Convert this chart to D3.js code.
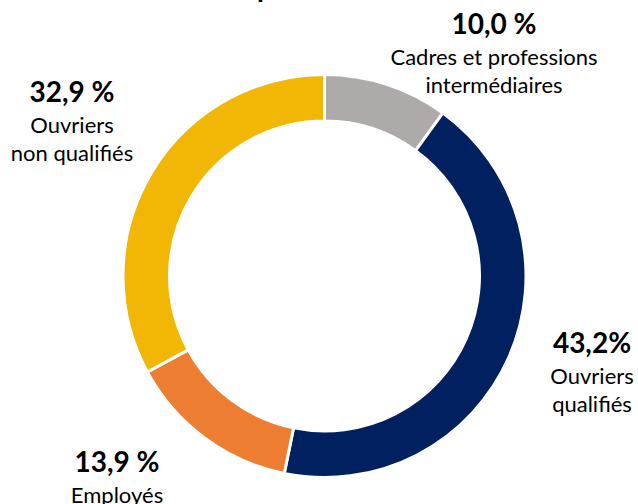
<!DOCTYPE html>
<html>
<head>
<meta charset="utf-8">
<script src="https://cdn.jsdelivr.net/npm/d3@7"></script>
<style>
  body { margin: 0; background: #fff; }
  svg { display: block; font-family: Lato, "Open Sans", sans-serif; }
</style>
</head>
<body>
<div id="chart"></div>
<script>
// categories, values and colours, clockwise from 12 o'clock
const categories = ["Cadres et professions intermédiaires", "Ouvriers qualifiés", "Employés", "Ouvriers non qualifiés"];
const values = [10.0, 43.2, 13.9, 32.9];
const valueLabels = ["10,0 %", "43,2%", "13,9 %", "32,9 %"];
const nameLines = [["Cadres et professions", "intermédiaires"], ["Ouvriers", "qualifiés"], ["Employés"], ["Ouvriers", "non qualifiés"]];
const colors = ["#aeaaaa", "#002060", "#ed7d31", "#f2b705"];

// label anchors (centre x, baseline of the bold value)
const labelPos = [[494, 34], [592, 353], [117, 472], [72, 102]];

const W = 638, H = 504;
const cx = 324.5, cy = 276;
const rOuter = 201.5, rInner = 155;

const svg = d3.select("#chart")
    .append("svg")
    .attr("width", W)
    .attr("height", H);

// title is mostly outside the frame, only a descender shows
const title = svg.append("text")
    .attr("x", 0)
    .attr("y", -3)
    .attr("font-weight", "bold")
    .attr("font-size", 28)
    .attr("fill", "#000")
    .text("Répartition");
const pStart = title.node().getStartPositionOfChar(2).x;
title.attr("x", 257 - pStart);

const pie = d3.pie().sort(null).value(d => d);
const arc = d3.arc().innerRadius(rInner).outerRadius(rOuter);

const g = svg.append("g").attr("transform", "translate(" + cx + "," + cy + ")");

g.selectAll("path")
    .data(pie(values))
    .enter()
    .append("path")
    .attr("d", arc)
    .attr("fill", (d, i) => colors[i])
    .attr("stroke", "#fff")
    .attr("stroke-width", 3);

// labels
const labels = svg.selectAll("g.label")
    .data(categories)
    .enter()
    .append("g")
    .attr("class", "label")
    .attr("transform", (d, i) => "translate(" + labelPos[i][0] + "," + labelPos[i][1] + ")");

labels.append("text")
    .attr("text-anchor", "middle")
    .attr("font-weight", "bold")
    .attr("font-size", 28)
    .attr("fill", "#000")
    .text((d, i) => valueLabels[i]);

labels.each(function(d, i) {
    const sel = d3.select(this);
    nameLines[i].forEach((line, j) => {
        sel.append("text")
            .attr("text-anchor", "middle")
            .attr("y", 31 + j * 28)
            .attr("font-size", 22)
            .attr("fill", "#000")
            .text(line);
    });
});
</script>
</body>
</html>
